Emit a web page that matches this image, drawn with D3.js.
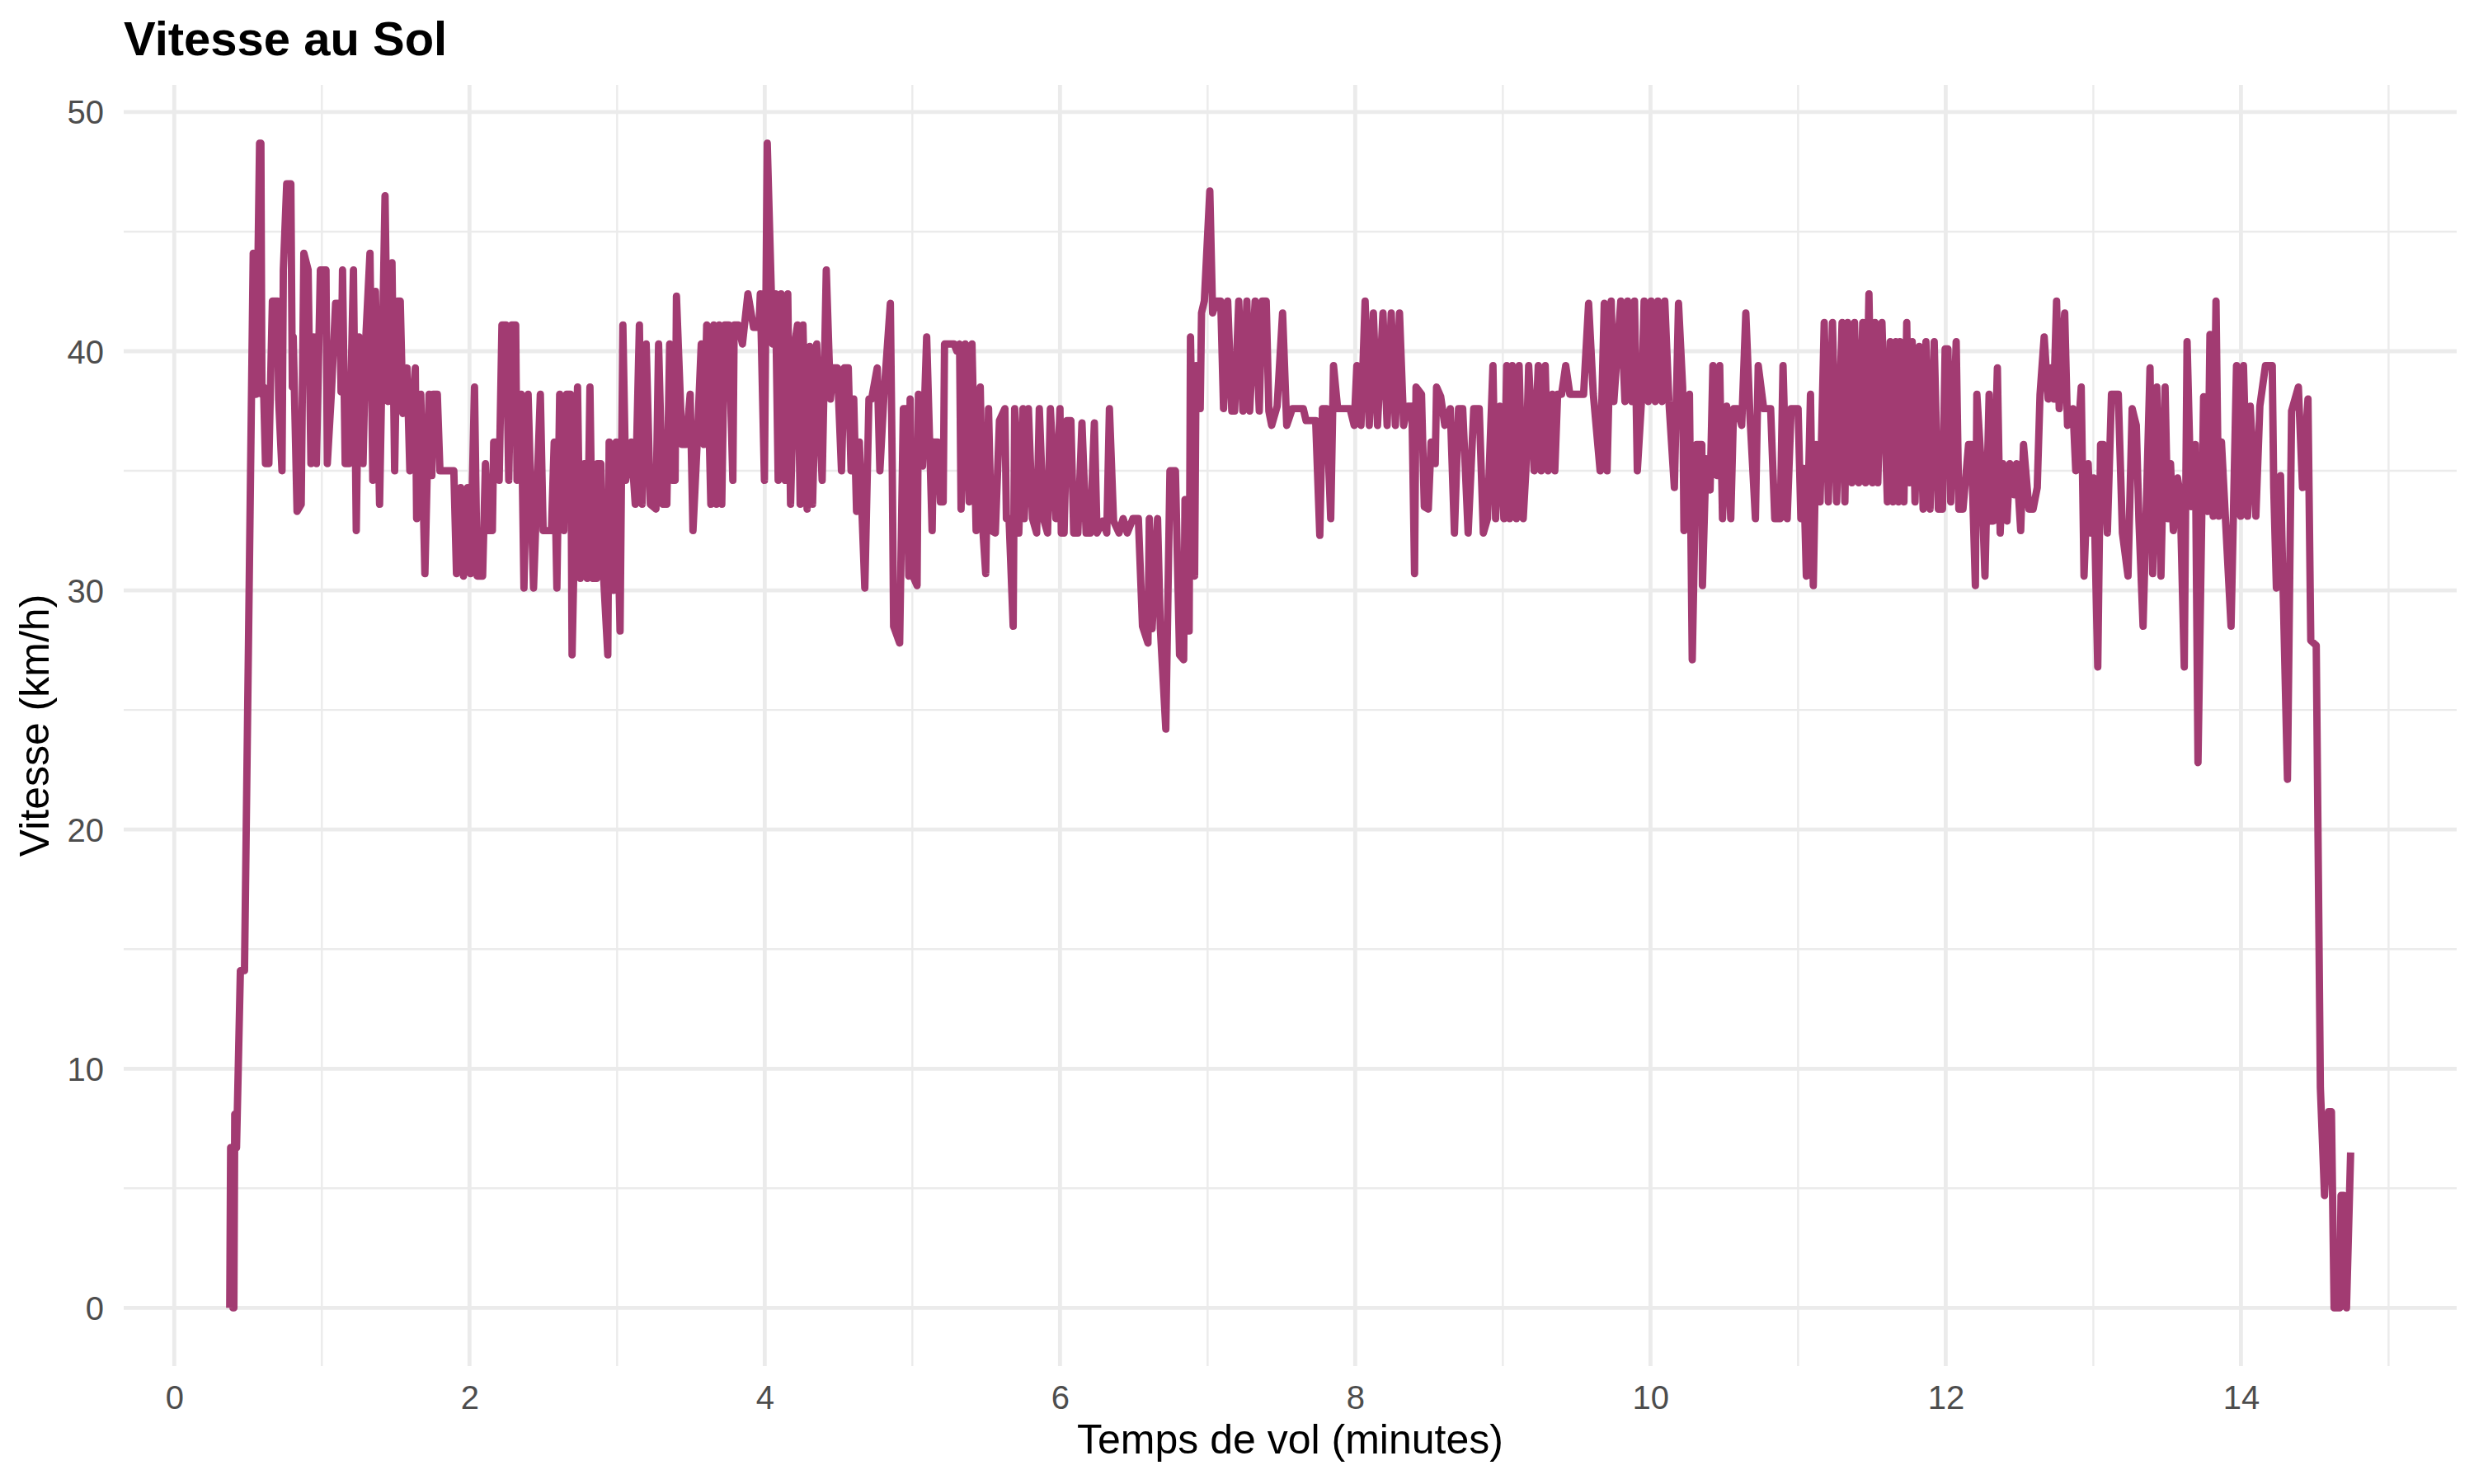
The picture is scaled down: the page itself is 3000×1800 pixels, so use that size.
<!DOCTYPE html>
<html>
<head>
<meta charset="utf-8">
<script src="https://cdn.jsdelivr.net/npm/d3@7"></script>
<style>
  html, body { margin: 0; padding: 0; background: #ffffff; }
  svg { display: block; }
</style>
</head>
<body>
<div id="chart"></div>
<script>
// ---- Data ----
const chartTitle = "Vitesse au Sol";
const xTitle = "Temps de vol (minutes)";
const yTitle = "Vitesse (km/h)";
const xTicks = [0, 2, 4, 6, 8, 10, 12, 14];
const yTicks = [0, 10, 20, 30, 40, 50];

const minutes = [
0.376,0.382,0.393,0.398,0.404,0.410,0.422,0.448,0.476,0.535,0.555,0.578,0.587,0.594,0.605,0.618,0.641,0.650,0.665,0.700,
0.707,0.730,0.739,0.762,0.790,0.800,0.806,0.832,0.860,0.878,0.907,0.926,0.944,0.963,0.990,1.028,1.037,1.065,1.093,1.121,
1.130,1.140,1.158,1.186,1.214,1.233,1.251,1.279,1.298,1.326,1.345,1.363,1.391,1.428,1.447,1.475,1.493,1.512,1.531,1.549,
1.577,1.596,1.633,1.642,1.670,1.698,1.726,1.745,1.754,1.782,1.800,1.894,1.912,1.940,1.959,1.987,2.006,2.034,2.052,2.089,
2.108,2.127,2.155,2.164,2.183,2.201,2.220,2.248,2.266,2.285,2.313,2.322,2.350,2.369,2.397,2.434,2.480,2.499,2.555,2.574,
2.592,2.611,2.639,2.657,2.685,2.695,2.732,2.750,2.778,2.797,2.816,2.834,2.862,2.865,2.890,2.909,2.937,2.946,2.974,2.993,
3.020,3.039,3.058,3.095,3.123,3.151,3.169,3.197,3.225,3.263,3.281,3.309,3.337,3.356,3.374,3.393,3.402,3.440,3.467,3.495,
3.514,3.542,3.570,3.588,3.607,3.635,3.654,3.672,3.691,3.709,3.728,3.756,3.784,3.793,3.821,3.849,3.886,3.924,3.961,3.970,
3.998,4.017,4.045,4.054,4.073,4.091,4.110,4.138,4.156,4.175,4.203,4.222,4.240,4.259,4.287,4.305,4.324,4.352,4.389,4.417,
4.445,4.464,4.492,4.520,4.538,4.566,4.585,4.603,4.622,4.641,4.678,4.706,4.724,4.762,4.780,4.808,4.851,4.864,4.873,4.914,
4.939,4.957,4.976,4.985,5.004,5.032,5.041,5.069,5.097,5.134,5.143,5.171,5.190,5.209,5.218,5.283,5.302,5.320,5.330,5.358,
5.385,5.404,5.432,5.460,5.479,5.497,5.516,5.535,5.562,5.590,5.627,5.637,5.655,5.683,5.693,5.721,5.749,5.758,5.786,5.814,
5.842,5.860,5.888,5.916,5.935,5.972,6.000,6.009,6.028,6.046,6.074,6.093,6.121,6.149,6.177,6.205,6.233,6.251,6.289,6.317,
6.335,6.363,6.400,6.428,6.456,6.494,6.531,6.559,6.596,6.605,6.624,6.661,6.680,6.717,6.745,6.782,6.810,6.838,6.847,6.875,
6.884,6.912,6.922,6.950,6.959,6.978,7.015,7.034,7.061,7.089,7.108,7.136,7.164,7.183,7.211,7.239,7.266,7.285,7.322,7.350,
7.369,7.397,7.415,7.434,7.471,7.508,7.536,7.574,7.620,7.648,7.667,7.732,7.760,7.778,7.806,7.834,7.853,7.881,7.965,7.993,
8.011,8.039,8.067,8.095,8.123,8.151,8.188,8.216,8.244,8.272,8.300,8.328,8.356,8.384,8.402,8.412,8.449,8.468,8.495,8.514,
8.542,8.551,8.579,8.607,8.644,8.672,8.700,8.728,8.765,8.803,8.840,8.868,8.896,8.933,8.951,8.979,9.007,9.026,9.045,9.063,
9.091,9.110,9.138,9.156,9.175,9.212,9.240,9.259,9.287,9.306,9.334,9.352,9.371,9.398,9.426,9.454,9.547,9.581,9.613,9.659,
9.687,9.706,9.734,9.752,9.799,9.827,9.845,9.873,9.892,9.911,9.939,9.957,9.985,10.004,10.032,10.050,10.078,10.097,10.125,10.162,
10.190,10.218,10.227,10.264,10.283,10.311,10.348,10.352,10.376,10.404,10.423,10.451,10.469,10.488,10.516,10.544,10.563,10.590,10.618,10.646,
10.674,10.711,10.730,10.767,10.814,10.842,10.879,10.898,10.926,10.953,11.000,11.019,11.037,11.056,11.084,11.103,11.121,11.149,11.177,11.205,
11.233,11.261,11.298,11.317,11.335,11.363,11.382,11.410,11.438,11.456,11.480,11.503,11.521,11.540,11.568,11.605,11.624,11.643,11.661,11.680,
11.689,11.717,11.736,11.754,11.773,11.792,11.820,11.847,11.866,11.894,11.922,11.950,11.978,11.996,12.015,12.034,12.071,12.089,12.117,12.155,
12.173,12.201,12.211,12.238,12.266,12.294,12.303,12.322,12.350,12.369,12.387,12.415,12.434,12.462,12.480,12.508,12.527,12.564,12.592,12.620,
12.639,12.667,12.694,12.713,12.732,12.751,12.769,12.806,12.825,12.862,12.881,12.918,12.937,12.965,12.983,13.002,13.030,13.049,13.067,13.095,
13.123,13.169,13.197,13.235,13.263,13.291,13.309,13.337,13.384,13.402,13.430,13.458,13.486,13.504,13.523,13.542,13.570,13.588,13.616,13.635,
13.663,13.691,13.709,13.747,13.775,13.790,13.812,13.831,13.849,13.868,13.933,13.970,13.998,14.017,14.045,14.063,14.101,14.128,14.166,14.212,
14.222,14.240,14.268,14.315,14.343,14.389,14.417,14.454,14.473,14.510,14.538,14.566,14.594,14.613,14.631,14.669,14.678,14.696,14.715,14.743
];

const speed = [
0,6.7,6.7,0,0,8.1,6.7,14.1,14.1,44.1,38.2,48.7,48.7,38.2,38.5,35.3,35.3,38.0,42.1,42.1,
38.0,35.0,43.4,47.0,47.0,38.5,40.6,33.3,33.6,44.1,43.4,35.3,40.6,35.3,43.4,43.4,35.3,38.3,42.0,42.0,
38.3,43.4,35.3,35.3,43.4,32.5,40.6,35.3,40.6,44.1,34.6,42.5,33.6,46.5,37.9,43.7,35.0,42.1,42.1,37.4,
39.3,35.0,39.3,33.0,38.2,30.7,38.2,34.8,38.2,38.2,35.0,35.0,30.7,34.3,30.6,34.3,30.7,38.5,30.6,30.6,
35.3,32.5,32.5,36.2,36.2,34.6,41.1,41.1,34.6,41.1,41.1,34.6,38.2,30.1,38.2,30.1,38.2,32.5,32.5,36.2,
30.1,38.2,32.5,38.2,38.2,27.3,38.5,30.5,35.3,30.5,38.5,30.5,30.5,35.3,35.3,30.5,27.3,36.2,30.0,36.2,
28.3,41.1,34.6,36.2,33.6,41.1,33.6,40.3,33.6,33.4,40.3,33.6,33.6,40.3,34.6,34.6,42.3,36.1,36.1,38.2,
32.5,36.1,40.3,36.1,41.1,33.6,41.1,33.6,41.1,33.6,41.1,41.1,34.6,41.1,41.1,40.3,42.4,41.0,41.0,42.4,
34.6,48.7,42.4,40.3,42.4,34.6,42.4,34.6,42.4,33.6,40.3,41.1,33.6,41.1,33.4,40.2,33.6,40.3,34.6,43.4,
38.0,39.3,39.3,35.0,39.3,39.3,35.0,38.0,33.3,36.2,30.1,38.0,38.0,39.3,35.0,38.2,42.0,35.0,28.5,27.8,
37.6,37.6,30.6,38.0,30.6,30.2,38.2,35.2,40.6,32.5,36.2,36.2,33.7,33.7,40.3,40.3,40.0,40.3,33.4,40.3,
33.7,40.3,32.5,38.5,32.4,30.7,37.6,32.5,32.4,37.1,37.6,33.0,33.0,28.5,37.6,32.4,37.6,33.0,37.6,33.0,
32.4,37.6,33.0,32.4,37.6,33.0,37.6,32.4,32.4,37.1,37.1,32.4,32.4,37.0,32.4,32.4,37.0,32.4,32.9,32.4,
37.6,32.9,32.4,33.0,32.4,33.0,33.0,28.5,27.8,33.0,28.4,33.0,28.4,24.2,35.0,35.0,27.3,27.1,33.8,28.3,
40.6,30.6,39.4,37.6,41.6,42.1,46.7,41.6,42.1,42.1,37.6,42.1,37.5,37.5,42.1,37.5,42.1,37.5,42.1,37.5,
42.1,42.1,37.5,36.9,37.7,41.6,36.9,37.6,37.6,37.6,37.1,37.1,32.3,37.6,37.6,33.0,39.4,37.6,37.6,36.9,
39.4,36.9,42.1,36.9,41.6,36.9,41.6,36.9,41.6,36.9,41.6,36.9,37.7,37.7,30.7,38.5,38.2,33.5,33.4,36.2,
35.3,38.5,38.1,36.9,37.6,32.4,37.6,37.6,32.4,37.6,37.6,32.4,33.0,39.4,33.0,37.7,33.0,39.4,33.0,39.4,
33.0,39.4,33.0,35.0,39.4,35.0,39.4,35.0,39.4,35.0,38.2,35.0,38.2,38.2,39.4,38.2,38.2,42.0,38.2,35.0,
42.0,35.0,42.1,37.9,42.1,37.9,42.1,37.9,42.1,35.0,37.9,42.1,37.9,42.1,37.9,42.1,37.9,42.1,37.9,34.3,
42.0,38.5,32.5,38.2,27.1,36.1,36.1,30.2,35.5,34.2,39.4,34.8,39.4,33.0,37.7,33.0,37.6,37.6,36.9,41.6,
37.3,33.0,39.4,37.6,37.6,33.0,33.0,39.4,33.0,37.6,37.6,33.0,35.1,30.6,38.2,30.2,36.1,33.7,41.2,33.7,
41.2,33.7,41.2,33.7,41.2,34.5,41.2,34.5,41.2,34.5,42.4,34.5,41.2,34.5,41.2,33.7,40.4,33.7,40.4,33.7,
40.4,33.7,41.2,34.5,40.4,33.7,40.2,33.4,40.4,33.4,40.4,33.4,33.4,40.1,40.1,33.7,40.4,33.4,33.4,36.1,
36.1,30.2,38.2,35.5,30.6,38.2,32.9,32.9,39.3,32.4,35.3,32.9,35.3,34.0,35.3,32.5,36.1,33.4,33.4,34.3,
38.2,40.6,38.0,39.3,38.0,42.1,37.6,41.6,36.9,37.6,35.0,38.5,30.6,35.3,32.4,34.7,26.8,36.1,36.1,32.4,
38.2,38.2,32.4,30.6,37.6,36.9,32.9,28.5,39.3,30.7,38.5,30.6,38.5,33.0,35.3,32.5,34.7,34.0,26.8,40.4,
33.5,36.1,22.8,38.1,33.3,40.7,33.1,42.1,33.1,36.2,28.5,39.4,33.1,39.4,33.1,37.7,33.1,37.7,39.4,39.4,
34.3,30.1,34.8,22.1,37.5,38.5,34.3,38.0,27.9,27.7,9.2,4.7,8.2,8.2,0,0,4.7,4.7,0,6.5
];

// ---- Layout ----
const W = 3000, H = 1800;
const panel = { left: 150, right: 2979, top: 103, bottom: 1657 };
const lineColor = "#A23B72";
const gridColor = "#EBEBEB";
const font = "'Liberation Sans', Arial, Helvetica, sans-serif";

const data = minutes.map((m, i) => ({ m, v: speed[i] }));

// ggplot-style 5% expansion
const xExt = d3.extent(minutes);
const yExt = [0, d3.max(speed)];
const xPad = (xExt[1] - xExt[0]) * 0.05;
const yPad = (yExt[1] - yExt[0]) * 0.05;

const x = d3.scaleLinear().domain([xExt[0] - xPad, xExt[1] + xPad]).range([panel.left, panel.right]);
const y = d3.scaleLinear().domain([yExt[0] - yPad, yExt[1] + yPad]).range([panel.bottom, panel.top]);

const svg = d3.select("#chart").append("svg")
  .attr("width", W).attr("height", H)
  .attr("viewBox", `0 0 ${W} ${H}`);

svg.append("rect").attr("width", W).attr("height", H).attr("fill", "#ffffff");

// minor gridlines
const xMinor = d3.range(-1, 17, 2).filter(v => v >= x.domain()[0] && v <= x.domain()[1]);
const yMinor = d3.range(5, 60, 10).filter(v => v >= y.domain()[0] && v <= y.domain()[1]);

const grid = svg.append("g");
grid.selectAll(".xminor").data(xMinor).join("line")
  .attr("x1", d => x(d)).attr("x2", d => x(d))
  .attr("y1", panel.top).attr("y2", panel.bottom)
  .attr("stroke", gridColor).attr("stroke-width", 2.4);
grid.selectAll(".yminor").data(yMinor).join("line")
  .attr("x1", panel.left).attr("x2", panel.right)
  .attr("y1", d => y(d)).attr("y2", d => y(d))
  .attr("stroke", gridColor).attr("stroke-width", 2.4);

// major gridlines
grid.selectAll(".xmajor").data(xTicks).join("line")
  .attr("x1", d => x(d)).attr("x2", d => x(d))
  .attr("y1", panel.top).attr("y2", panel.bottom)
  .attr("stroke", gridColor).attr("stroke-width", 4.8);
grid.selectAll(".ymajor").data(yTicks).join("line")
  .attr("x1", panel.left).attr("x2", panel.right)
  .attr("y1", d => y(d)).attr("y2", d => y(d))
  .attr("stroke", gridColor).attr("stroke-width", 4.8);

// axes (labels only, like theme_minimal)
const xAxis = d3.axisBottom(x).tickValues(xTicks).tickSize(0).tickPadding(0);
const gx = svg.append("g").attr("transform", `translate(0, ${panel.bottom})`).call(xAxis);
gx.select(".domain").remove();
gx.selectAll("text")
  .attr("y", 52).attr("dy", null)
  .attr("font-family", font).attr("font-size", 40).attr("fill", "#4D4D4D");

const yAxis = d3.axisLeft(y).tickValues(yTicks).tickSize(0).tickPadding(0);
const gy = svg.append("g").attr("transform", `translate(${panel.left}, 0)`).call(yAxis);
gy.select(".domain").remove();
gy.selectAll("text")
  .attr("x", -24).attr("dy", "0.35em")
  .attr("font-family", font).attr("font-size", 40).attr("fill", "#4D4D4D");

// line
const line = d3.line().x(d => x(d.m)).y(d => y(d.v));
svg.append("path")
  .datum(data)
  .attr("d", line)
  .attr("fill", "none")
  .attr("stroke", lineColor)
  .attr("stroke-width", 8.9)
  .attr("stroke-linejoin", "round")
  .attr("stroke-linecap", "butt");

// titles
svg.append("text")
  .attr("x", panel.left).attr("y", 67)
  .attr("font-family", font).attr("font-size", 58).attr("font-weight", "bold")
  .attr("fill", "#000000")
  .text(chartTitle);

svg.append("text")
  .attr("x", (panel.left + panel.right) / 2).attr("y", 1763)
  .attr("text-anchor", "middle")
  .attr("font-family", font).attr("font-size", 50).attr("fill", "#000000")
  .text(xTitle);

svg.append("text")
  .attr("transform", `translate(59, ${(panel.top + panel.bottom) / 2}) rotate(-90)`)
  .attr("text-anchor", "middle")
  .attr("font-family", font).attr("font-size", 50).attr("fill", "#000000")
  .text(yTitle);
</script>
</body>
</html>
